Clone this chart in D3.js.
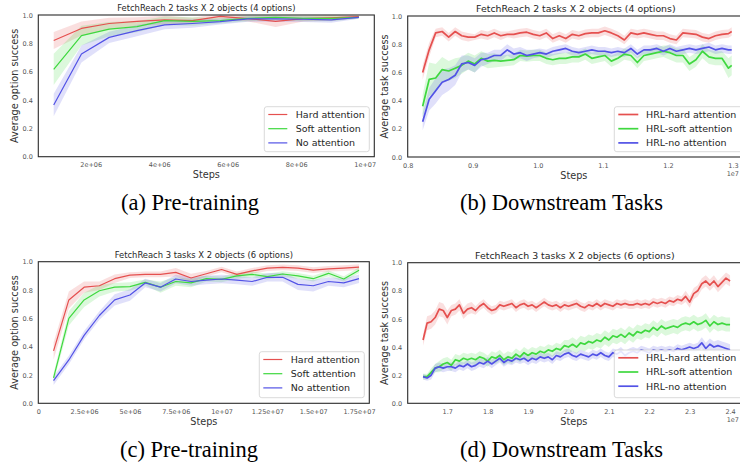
<!DOCTYPE html>
<html>
<head>
<meta charset="utf-8">
<script src="https://cdn.jsdelivr.net/npm/d3@7"></script>
<style>
  body { margin: 0; background: #fff; }
  svg { display: block; }
  text { font-family: "DejaVu Sans", sans-serif; }
  .caption { font-family: "Liberation Serif", "Times New Roman", serif; }
</style>
</head>
<body>
<svg id="chart" width="740" height="467"></svg>
<script>
// ---------------- DATA ----------------
const seriesNames = ["Hard attention", "Soft attention", "No attention"];
const seriesNamesHRL = ["HRL-hard attention", "HRL-soft attention", "HRL-no attention"];
const yTickValues = [0, 0.2, 0.4, 0.6, 0.8, 1.0];
const yTickLabels = ["0.0", "0.2", "0.4", "0.6", "0.8", "1.0"];

// Panel (a): pre-training, 2 tasks x 2 objects
const stepsA = [0.92e6, 1.73e6, 2.54e6, 3.35e6, 4.16e6, 4.97e6, 5.78e6, 6.59e6, 7.40e6, 8.21e6, 9.02e6, 9.83e6];
const hardA = [0.82, 0.905, 0.94, 0.955, 0.965, 0.96, 0.99, 0.975, 0.955, 0.975, 0.98, 0.988];
const softA = [0.616, 0.854, 0.90, 0.918, 0.96, 0.955, 0.96, 0.976, 0.983, 0.976, 0.976, 0.983];
const noneA = [0.365, 0.725, 0.842, 0.89, 0.93, 0.94, 0.953, 0.972, 0.972, 0.97, 0.965, 0.983];
const hardSdA = [0.06, 0.05, 0.04, 0.03, 0.03, 0.02, 0.02, 0.02, 0.04, 0.02, 0.02, 0.01];
const softSdA = [0.11, 0.07, 0.05, 0.04, 0.03, 0.03, 0.02, 0.02, 0.02, 0.02, 0.02, 0.01];
const noneSdA = [0.08, 0.06, 0.04, 0.04, 0.03, 0.03, 0.02, 0.02, 0.02, 0.02, 0.02, 0.01];
const xTicksA = [2e6, 4e6, 6e6, 8e6, 1e7];
const xTickLabelsA = ["2e+06", "4e+06", "6e+06", "8e+06", "1e+07"];

// Panel (b): downstream, 2 tasks x 2 objects (steps in units of 1e7)
const stepsB = [0.823,0.833,0.843,0.853,0.863,0.873,0.883,0.893,0.903,0.913,0.923,0.933,0.943,0.953,0.963,0.973,0.983,0.993,
  1.003,1.013,1.023,1.033,1.043,1.053,1.063,1.073,1.083,1.093,1.103,1.113,1.123,1.133,1.143,1.153,1.163,1.173,1.183,1.193,
  1.203,1.213,1.223,1.233,1.243,1.253,1.263,1.273,1.283,1.293,1.298];
const hardB = [0.60,0.76,0.88,0.89,0.85,0.89,0.86,0.85,0.85,0.87,0.86,0.88,0.86,0.87,0.87,0.88,0.885,0.87,
  0.86,0.88,0.84,0.86,0.84,0.87,0.86,0.875,0.88,0.88,0.895,0.88,0.86,0.83,0.88,0.87,0.88,0.87,0.86,0.86,
  0.84,0.83,0.88,0.875,0.87,0.85,0.84,0.86,0.87,0.875,0.89];
const softB = [0.36,0.55,0.56,0.62,0.61,0.63,0.65,0.68,0.66,0.70,0.68,0.685,0.68,0.685,0.69,0.72,0.715,0.72,
  0.72,0.70,0.69,0.70,0.70,0.71,0.71,0.73,0.70,0.71,0.72,0.68,0.70,0.73,0.72,0.67,0.72,0.73,0.74,0.75,
  0.74,0.72,0.72,0.66,0.69,0.75,0.71,0.70,0.70,0.63,0.65];
const noneB = [0.25,0.41,0.47,0.53,0.55,0.58,0.66,0.67,0.65,0.69,0.70,0.72,0.72,0.76,0.73,0.74,0.72,0.73,
  0.74,0.73,0.75,0.76,0.77,0.75,0.74,0.75,0.76,0.75,0.75,0.74,0.75,0.74,0.77,0.73,0.76,0.76,0.77,0.75,
  0.77,0.75,0.76,0.77,0.76,0.77,0.78,0.76,0.77,0.76,0.76];
const hardSdB = [0.05,0.05,0.03,0.03,0.03,0.03,0.03,0.03,0.02,0.03,0.03,0.03,0.03,0.02,0.03,0.03,0.03,0.03,
  0.03,0.03,0.03,0.03,0.03,0.03,0.03,0.03,0.03,0.03,0.03,0.03,0.03,0.03,0.03,0.03,0.03,0.03,0.03,0.03,
  0.03,0.03,0.03,0.03,0.03,0.03,0.03,0.03,0.03,0.03,0.03];
const softSdB = [0.08,0.12,0.10,0.09,0.07,0.07,0.06,0.06,0.06,0.05,0.05,0.05,0.04,0.04,0.04,0.04,0.04,0.04,
  0.04,0.04,0.04,0.04,0.04,0.04,0.04,0.04,0.04,0.04,0.04,0.04,0.04,0.04,0.04,0.04,0.04,0.04,0.04,0.04,
  0.05,0.05,0.05,0.05,0.05,0.05,0.05,0.05,0.05,0.07,0.07];
const noneSdB = [0.06,0.08,0.09,0.09,0.08,0.07,0.06,0.05,0.05,0.05,0.04,0.04,0.04,0.04,0.04,0.04,0.04,0.03,
  0.03,0.03,0.03,0.03,0.03,0.03,0.03,0.03,0.03,0.03,0.03,0.03,0.03,0.03,0.03,0.03,0.03,0.03,0.03,0.03,
  0.03,0.03,0.03,0.03,0.03,0.03,0.03,0.03,0.03,0.03,0.03];
const xTicksB = [0.8, 0.9, 1.0, 1.1, 1.2, 1.3];
const xTickLabelsB = ["0.8", "0.9", "1.0", "1.1", "1.2", "1.3"];

// Panel (c): pre-training, 3 tasks x 2 objects
const stepsC = [0.833e6,1.667e6,2.5e6,3.333e6,4.167e6,5e6,5.833e6,6.667e6,7.5e6,8.333e6,9.167e6,10e6,
  10.833e6,11.667e6,12.5e6,13.333e6,14.167e6,15e6,15.833e6,16.667e6,17.5e6];
const hardC = [0.37,0.73,0.82,0.83,0.88,0.905,0.91,0.91,0.925,0.885,0.915,0.945,0.91,0.935,0.955,0.96,0.955,0.94,0.95,0.955,0.962];
const softC = [0.18,0.60,0.73,0.795,0.82,0.824,0.854,0.82,0.86,0.85,0.88,0.875,0.90,0.91,0.895,0.913,0.90,0.88,0.918,0.878,0.94];
const noneC = [0.16,0.306,0.48,0.62,0.73,0.765,0.85,0.82,0.878,0.86,0.87,0.878,0.87,0.86,0.89,0.89,0.84,0.83,0.86,0.85,0.88];
const hardSdC = [0.06,0.06,0.04,0.03,0.03,0.02,0.02,0.02,0.03,0.03,0.02,0.02,0.02,0.02,0.02,0.02,0.02,0.02,0.02,0.02,0.02];
const softSdC = [0.03,0.05,0.05,0.04,0.03,0.03,0.02,0.04,0.03,0.03,0.02,0.02,0.02,0.02,0.02,0.02,0.02,0.02,0.02,0.02,0.02];
const noneSdC = [0.03,0.03,0.03,0.03,0.04,0.04,0.03,0.03,0.03,0.03,0.03,0.03,0.03,0.03,0.03,0.03,0.04,0.04,0.03,0.03,0.03];
const xTicksC = [0, 2.5e6, 5e6, 7.5e6, 1e7, 1.25e7, 1.5e7, 1.75e7];
const xTickLabelsC = ["0", "2.5e+06", "5e+06", "7.5e+06", "1e+07", "1.25e+07", "1.5e+07", "1.75e+07"];

// Panel (d): downstream, 3 tasks x 2 objects (steps in units of 1e7)
const stepsD = [1.64,1.65,1.66,1.67,1.68,1.69,1.70,1.71,1.72,1.73,1.74,1.75,1.76,1.77,1.78,1.79,1.80,1.81,1.82,1.83,
  1.84,1.85,1.86,1.87,1.88,1.89,1.90,1.91,1.92,1.93,1.94,1.95,1.96,1.97,1.98,1.99,2.00,2.01,2.02,2.03,
  2.04,2.05,2.06,2.07,2.08,2.09,2.10,2.11,2.12,2.13,2.14,2.15,2.16,2.17,2.18,2.19,2.20,2.21,2.22,2.23,
  2.24,2.25,2.26,2.27,2.28,2.29,2.30,2.31,2.32,2.33,2.34,2.35,2.36,2.37,2.38,2.39,2.40];
const hardD = [0.45,0.57,0.58,0.61,0.67,0.66,0.61,0.66,0.67,0.70,0.64,0.67,0.68,0.66,0.69,0.71,0.68,0.66,0.67,0.70,
  0.69,0.70,0.71,0.68,0.70,0.71,0.69,0.70,0.68,0.70,0.72,0.70,0.69,0.70,0.68,0.70,0.69,0.70,0.71,0.69,
  0.68,0.70,0.69,0.71,0.69,0.71,0.70,0.69,0.71,0.70,0.71,0.70,0.70,0.71,0.70,0.71,0.70,0.72,0.71,0.72,
  0.71,0.73,0.72,0.74,0.73,0.76,0.72,0.78,0.80,0.85,0.87,0.84,0.87,0.83,0.86,0.89,0.87];
const softD = [0.19,0.19,0.22,0.25,0.26,0.28,0.29,0.27,0.31,0.30,0.32,0.31,0.32,0.31,0.33,0.32,0.30,0.33,0.32,0.34,
  0.31,0.33,0.32,0.35,0.33,0.36,0.34,0.36,0.35,0.37,0.36,0.38,0.37,0.39,0.38,0.41,0.40,0.42,0.40,0.43,
  0.42,0.44,0.43,0.45,0.44,0.47,0.45,0.48,0.47,0.49,0.47,0.50,0.48,0.51,0.50,0.52,0.51,0.54,0.52,0.55,
  0.53,0.54,0.55,0.54,0.56,0.57,0.56,0.58,0.56,0.57,0.59,0.55,0.58,0.56,0.57,0.56,0.56];
const noneD = [0.19,0.18,0.20,0.25,0.26,0.25,0.26,0.26,0.25,0.27,0.26,0.28,0.26,0.27,0.29,0.28,0.30,0.28,0.30,0.32,
  0.29,0.31,0.30,0.32,0.31,0.32,0.30,0.32,0.31,0.33,0.32,0.33,0.31,0.34,0.33,0.35,0.36,0.34,0.33,0.35,
  0.34,0.33,0.35,0.34,0.36,0.34,0.33,0.36,0.35,0.37,0.34,0.36,0.37,0.36,0.38,0.37,0.36,0.38,0.37,0.38,
  0.37,0.38,0.37,0.39,0.38,0.39,0.40,0.39,0.40,0.43,0.39,0.42,0.40,0.41,0.40,0.39,0.38];
const hardSdD = [0.04,0.05,0.05,0.05,0.05,0.05,0.05,0.04,0.04,0.04,0.04,0.04,0.04,0.03,0.03,0.03,0.03,0.03,0.03,0.03,
  0.03,0.03,0.03,0.03,0.03,0.03,0.03,0.03,0.03,0.03,0.03,0.03,0.03,0.03,0.03,0.03,0.03,0.03,0.03,0.03,
  0.03,0.03,0.03,0.03,0.03,0.03,0.03,0.03,0.03,0.03,0.03,0.03,0.03,0.03,0.03,0.03,0.03,0.03,0.03,0.03,
  0.03,0.03,0.03,0.03,0.03,0.04,0.04,0.04,0.04,0.04,0.04,0.04,0.04,0.04,0.04,0.04,0.04];
const softSdD = [0.02,0.02,0.03,0.03,0.04,0.04,0.04,0.04,0.04,0.04,0.04,0.04,0.04,0.04,0.04,0.04,0.04,0.04,0.04,0.04,
  0.04,0.04,0.04,0.04,0.04,0.04,0.04,0.04,0.04,0.04,0.04,0.04,0.04,0.04,0.04,0.04,0.05,0.05,0.05,0.05,
  0.05,0.05,0.05,0.05,0.05,0.05,0.05,0.05,0.05,0.05,0.05,0.05,0.05,0.05,0.05,0.05,0.05,0.05,0.05,0.05,
  0.05,0.05,0.05,0.05,0.05,0.05,0.05,0.05,0.05,0.05,0.05,0.05,0.05,0.05,0.05,0.05,0.05];
const noneSdD = [0.02,0.02,0.03,0.03,0.03,0.03,0.03,0.03,0.03,0.03,0.03,0.03,0.03,0.03,0.03,0.03,0.03,0.03,0.03,0.03,
  0.03,0.03,0.03,0.03,0.03,0.03,0.03,0.03,0.03,0.03,0.03,0.03,0.03,0.03,0.03,0.03,0.03,0.03,0.03,0.03,
  0.03,0.03,0.03,0.03,0.03,0.03,0.03,0.03,0.03,0.03,0.03,0.03,0.03,0.03,0.03,0.03,0.03,0.03,0.03,0.03,
  0.03,0.03,0.03,0.03,0.03,0.03,0.03,0.03,0.03,0.04,0.04,0.04,0.04,0.04,0.04,0.04,0.04];
const xTicksD = [1.7, 1.8, 1.9, 2.0, 2.1, 2.2, 2.3, 2.4];
const xTickLabelsD = ["1.7", "1.8", "1.9", "2.0", "2.1", "2.2", "2.3", "2.4"];

const titles = [
  "FetchReach 2 tasks X 2 objects (4 options)",
  "FetchReach 2 tasks X 2 objects (4 options)",
  "FetchReach 3 tasks X 2 objects (6 options)",
  "FetchReach 3 tasks X 2 objects (6 options)"
];
const captions = ["(a) Pre-training", "(b) Downstream Tasks", "(c) Pre-training", "(d) Downstream Tasks"];
const yLabels = ["Average option success", "Average task success", "Average option success", "Average task success"];

// ---------------- LAYOUT / STYLE ----------------
const colors = ["#e5504f", "#3fd83f", "#5252e6"];
const svg = d3.select("#chart");

const panels = [
  { box: {l: 38.3, r: 374.3, t: 15, b: 156.7}, xdom: [0.47e6, 10.28e6], steps: stepsA,
    means: [hardA, softA, noneA], sds: [hardSdA, softSdA, noneSdA], ticks: xTicksA, tickLabels: xTickLabelsA,
    names: seriesNames, lw: 1.2, titleSize: 8.4, legend: {x: 264.3, y: 106.7, w: 105, h: 45}, offset: null,
    caption: {x: 190, y: 210}, ylabX: 15 },
  { box: {l: 407.7, r: 747, t: 16, b: 157}, xdom: [0.8, 1.3215], steps: stepsB,
    means: [hardB, softB, noneB], sds: [hardSdB, softSdB, noneSdB], ticks: xTicksB, tickLabels: xTickLabelsB,
    names: seriesNamesHRL, lw: 1.7, titleSize: 9.4, legend: {x: 614.3, y: 106.7, w: 132, h: 45}, offset: "1e7",
    caption: {x: 561.5, y: 210}, ylabX: 385 },
  { box: {l: 38.3, r: 369.3, t: 261.7, b: 403.3}, xdom: [0, 18.06e6], steps: stepsC,
    means: [hardC, softC, noneC], sds: [hardSdC, softSdC, noneSdC], ticks: xTicksC, tickLabels: xTickLabelsC,
    names: seriesNames, lw: 1.2, titleSize: 8.4, legend: {x: 259.3, y: 351.7, w: 105, h: 46}, offset: null,
    caption: {x: 189, y: 456.5}, ylabX: 15 },
  { box: {l: 407.7, r: 745, t: 262.7, b: 403.3}, xdom: [1.602, 2.437], steps: stepsD,
    means: [hardD, softD, noneD], sds: [hardSdD, softSdD, noneSdD], ticks: xTicksD, tickLabels: xTickLabelsD,
    names: seriesNamesHRL, lw: 1.7, titleSize: 9.4, legend: {x: 614.3, y: 350, w: 132, h: 47.7}, offset: "1e7",
    caption: {x: 561.5, y: 456.5}, ylabX: 385 }
];

panels.forEach((p, pi) => {
  const B = p.box;
  const x = d3.scaleLinear().domain(p.xdom).range([B.l, B.r]);
  const y = d3.scaleLinear().domain([0, 1]).range([B.b, B.t]);
  const g = svg.append("g");

  const clipId = "clip" + pi;
  svg.append("clipPath").attr("id", clipId)
    .append("rect").attr("x", B.l).attr("y", B.t).attr("width", B.r - B.l).attr("height", B.b - B.t);

  const plot = g.append("g").attr("clip-path", `url(#${clipId})`);

  // bands
  p.means.forEach((m, si) => {
    const sd = p.sds[si];
    const pts = p.steps.map((s, i) => ({s, lo: m[i] - sd[i], hi: m[i] + sd[i]}));
    const area = d3.area().x(d => x(d.s)).y0(d => y(d.lo)).y1(d => y(d.hi));
    plot.append("path").attr("d", area(pts)).attr("fill", colors[si]).attr("fill-opacity", 0.18).attr("stroke", "none");
  });
  // lines
  p.means.forEach((m, si) => {
    const pts = p.steps.map((s, i) => ({s, v: m[i]}));
    const line = d3.line().x(d => x(d.s)).y(d => y(d.v));
    plot.append("path").attr("d", line(pts)).attr("fill", "none")
      .attr("stroke", colors[si]).attr("stroke-width", p.lw).attr("stroke-linejoin", "round");
  });

  // axes (tick labels only, no tick marks, as in seaborn white style)
  const xAxis = d3.axisBottom(x).tickValues(p.ticks).tickFormat((d, i) => p.tickLabels[i]).tickSize(0).tickPadding(6);
  const gx = g.append("g").attr("transform", `translate(0,${B.b})`).call(xAxis);
  gx.select(".domain").remove();
  gx.selectAll("text").attr("font-size", 6.5).attr("fill", "#555").attr("font-family", "DejaVu Sans");

  const yAxis = d3.axisLeft(y).tickValues(yTickValues).tickFormat((d, i) => yTickLabels[i]).tickSize(0).tickPadding(5.5);
  const gy = g.append("g").attr("transform", `translate(${B.l},0)`).call(yAxis);
  gy.select(".domain").remove();
  gy.selectAll("text").attr("font-size", 6.5).attr("fill", "#555").attr("font-family", "DejaVu Sans");

  // frame
  g.append("rect").attr("x", B.l).attr("y", B.t).attr("width", B.r - B.l).attr("height", B.b - B.t)
    .attr("fill", "none").attr("stroke", "#2b2b2b").attr("stroke-width", 1.1);

  // title
  g.append("text").attr("x", (B.l + B.r) / 2 - (pi % 2 ? 1.5 : 0)).attr("y", B.t - 4)
    .attr("text-anchor", "middle").attr("font-size", p.titleSize).attr("fill", "#262626").text(titles[pi]);

  // axis labels
  g.append("text").attr("x", (B.l + Math.min(B.r, 740)) / 2).attr("y", B.b + 21.5)
    .attr("text-anchor", "middle").attr("font-size", 9.7).attr("fill", "#333").text("Steps");
  g.append("text").attr("transform", `translate(${p.ylabX + 3.3},${(B.t + B.b) / 2}) rotate(-90)`)
    .attr("text-anchor", "middle").attr("font-size", 9.7).attr("fill", "#333").text(yLabels[pi]);

  if (p.offset) {
    g.append("text").attr("x", 739).attr("y", B.b + 18.5).attr("text-anchor", "end")
      .attr("font-size", 6.5).attr("fill", "#555").text(p.offset);
  }

  // legend
  const L = p.legend;
  const lg = g.append("g");
  lg.append("rect").attr("x", L.x).attr("y", L.y).attr("width", L.w).attr("height", L.h)
    .attr("rx", 2.5).attr("fill", "#fff").attr("fill-opacity", 0.85).attr("stroke", "#d0d0d0").attr("stroke-width", 0.8);
  p.names.forEach((nm, si) => {
    const ly = L.y + 7.8 + si * 14.2;
    const isHRL = p.lw > 1.5;
    const x0 = L.x + 4, x1 = L.x + (isHRL ? 24 : 23);
    lg.append("line").attr("x1", x0).attr("x2", x1).attr("y1", ly).attr("y2", ly)
      .attr("stroke", colors[si]).attr("stroke-width", p.lw);
    lg.append("text").attr("x", L.x + (isHRL ? 31.7 : 31.4)).attr("y", ly + 3.4)
      .attr("font-size", 9.5).attr("fill", "#262626").text(nm);
  });

  // caption
  svg.append("text").attr("class", "caption").attr("x", p.caption.x).attr("y", p.caption.y)
    .attr("text-anchor", "middle").attr("font-size", 22.5).attr("fill", "#000").text(captions[pi]);
});
</script>
</body>
</html>
